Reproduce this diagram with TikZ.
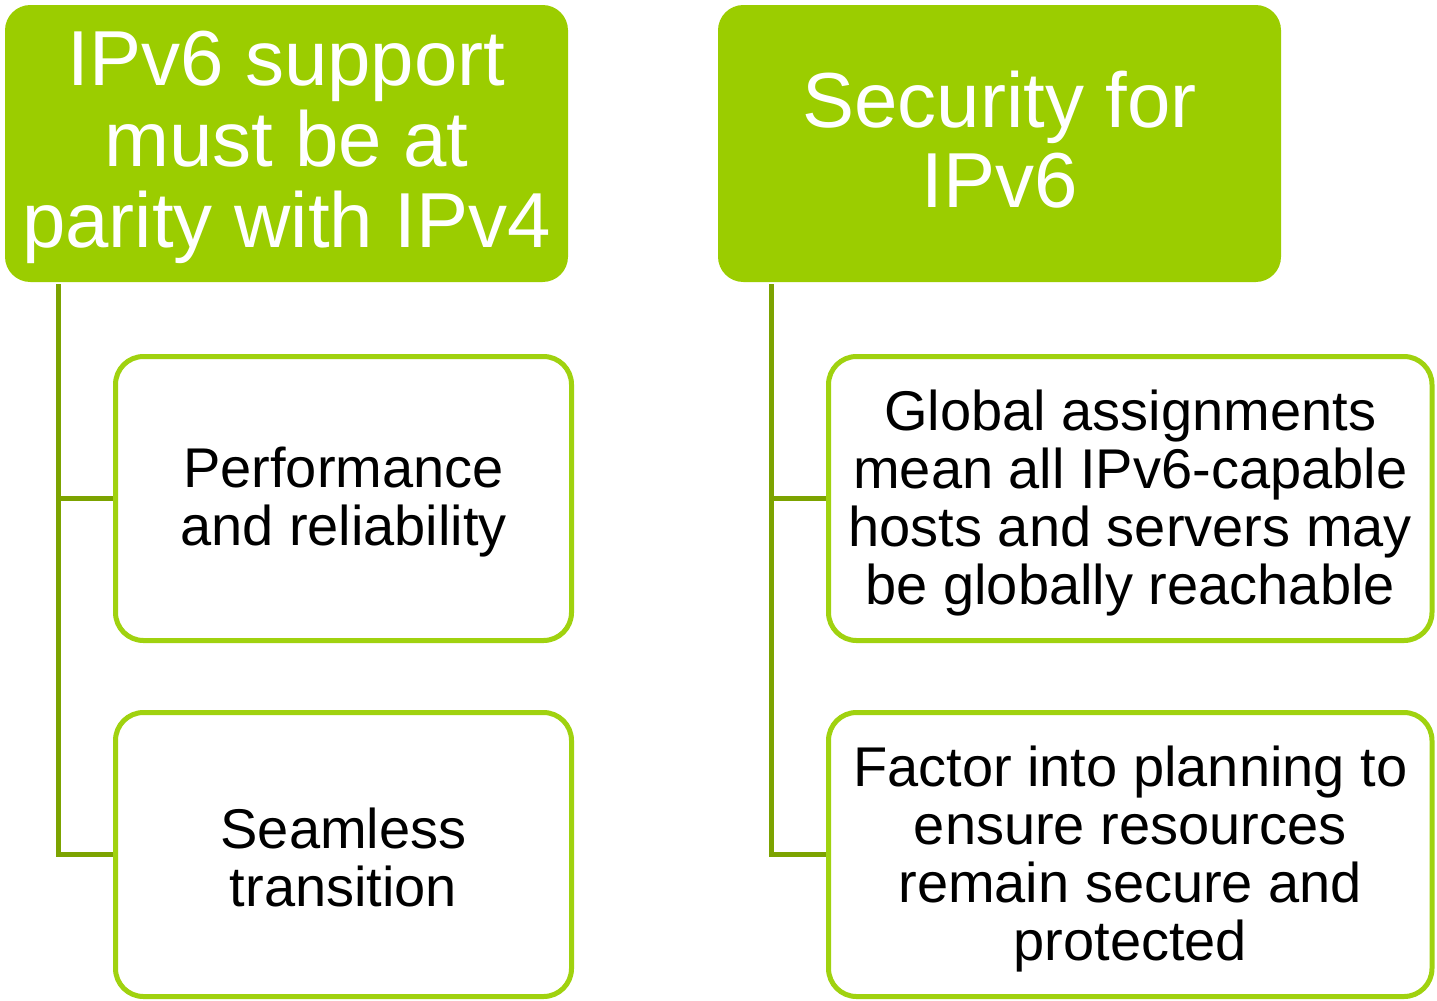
\documentclass[tikz,border=0pt]{standalone}
\usepackage{fontspec}
\setmainfont{Liberation Sans}
\definecolor{hdrgreen}{RGB}{155,205,0}
\definecolor{boxgreen}{RGB}{160,210,15}
\definecolor{linegreen}{RGB}{124,163,0}
\begin{document}
\begin{tikzpicture}[x=0.75pt,y=-0.75pt,
  hdr/.style={rectangle,rounded corners=19pt,fill=hdrgreen,inner sep=0pt,
    minimum width=422.25pt,minimum height=207.75pt},
  hdrtxt/.style={text=white,inner sep=0pt,align=center,
    font=\fontsize{58.5}{60.5}\selectfont},
  child/.style={rectangle,rounded corners=21pt,draw=boxgreen,line width=3.75pt,fill=white,
    inner sep=0pt,minimum height=213pt},
  childtxt/.style={inner sep=0pt,align=center,
    font=\fontsize{42}{43.5}\selectfont},
  conn/.style={draw=linegreen,line width=3.75pt}]
\useasboundingbox (0,0) rectangle (1437,1000);
\node[hdr] (hL) at (286.5,143.5) {};
\node[hdrtxt] (hLt) at ([yshift=-3pt]hL.center) {IPv6 support\\must be at\\parity with IPv4};
\node[hdr] (hR) at (999.5,143.5) {};
\node[hdrtxt] (hRt) at ([yshift=3pt]hR.center) {Security for\\IPv6};
\node[child,minimum width=342pt] (c1) at (343.5,498.5) {};
\node[childtxt] (c1t) at ([yshift=-2.5pt]c1.center) {Performance\\and reliability};
\node[child,minimum width=342pt] (c2) at (343.5,854.5) {};
\node[childtxt] (c2t) at ([yshift=-2pt]c2.center) {Seamless\\transition};
\node[child,minimum width=452.6pt] (c3) at (1130.25,498.5) {};
\node[childtxt] (c3t) at ([yshift=-3.5pt]c3.center) {Global assignments\\mean all IPv6-capable\\hosts and servers may\\be globally reachable};
\node[child,minimum width=452.6pt] (c4) at (1130.25,854.5) {};
\node[childtxt] (c4t) at ([yshift=-3.5pt]c4.center) {Factor into planning to\\ensure resources\\remain secure and\\protected};
\coordinate (tL) at (58.5,284);
\coordinate (tR) at (771,284);
\draw[conn] (tL) |- (c1.west);
\draw[conn] (tL) |- (c2.west);
\draw[conn] (tR) |- (c3.west);
\draw[conn] (tR) |- (c4.west);
\end{tikzpicture}
\end{document}
